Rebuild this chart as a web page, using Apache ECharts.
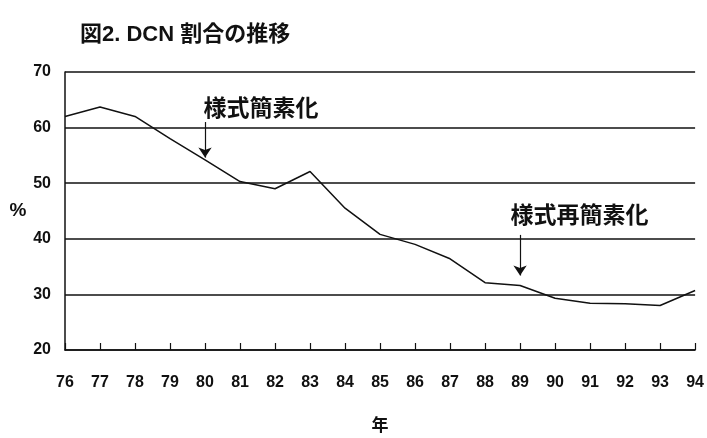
<!DOCTYPE html>
<html><head><meta charset="utf-8">
<script src="https://cdn.jsdelivr.net/npm/echarts@6/dist/echarts.min.js"></script>
<style>html,body{margin:0;padding:0;background:#fff}#c{width:707px;height:438px}</style>
</head><body><div id="c"></div>
<script>
const years = [76,77,78,79,80,81,82,83,84,85,86,87,88,89,90,91,92,93,94];
const dcnShare = [62.0,63.7,62.0,58.0,54.2,50.3,49.0,52.1,45.5,40.8,39.0,36.4,32.1,31.6,29.3,28.4,28.3,28.0,30.7];
const yTicks = [20,30,40,50,60,70];
const notes = [
  {text:'様式簡素化', x:81.6, y:63.6, arrowX:80, from:61.0, to:54.6},
  {text:'様式再簡素化', x:90.7, y:44.4, arrowX:89, from:40.7, to:33.4}
];
const FONT = '"Liberation Sans","Noto Sans CJK JP",sans-serif';
const JFONT = '"Noto Sans CJK JP","Liberation Sans",sans-serif';
const chart = echarts.init(document.getElementById('c'));
chart.setOption({
  animation:false,
  backgroundColor:'#fff',
  title:{text:'図2. DCN 割合の推移', left:75, top:19,
    textStyle:{fontFamily:FONT, fontSize:22, fontWeight:'bold', color:'#111'}},
  grid:{left:65, right:9, top:72, bottom:88},
  xAxis:{type:'value', min:years[0], max:years[years.length-1], interval:1,
    name:'年', nameLocation:'middle', nameGap:66,
    nameTextStyle:{fontFamily:JFONT, fontSize:17, fontWeight:'bold', color:'#111'},
    axisLine:{lineStyle:{color:'#111', width:1.5}},
    axisTick:{inside:true, length:7, lineStyle:{color:'#111', width:1.2}},
    axisLabel:{margin:25, fontFamily:FONT, fontSize:16, fontWeight:'bold', color:'#111', formatter:v=>String(v)},
    splitLine:{show:false}},
  yAxis:{type:'value', min:yTicks[0], max:yTicks[yTicks.length-1], interval:10,
    name:'%', nameLocation:'middle', nameRotate:0, nameGap:47,
    nameTextStyle:{fontFamily:FONT, fontSize:19, fontWeight:'bold', color:'#111', align:'center'},
    axisLine:{show:true, lineStyle:{color:'#111', width:1.5}},
    axisTick:{show:false},
    axisLabel:{margin:14, fontFamily:FONT, fontSize:16, fontWeight:'bold', color:'#111'},
    splitLine:{show:true, lineStyle:{color:'#111', width:1.5}}},
  series:[{
    type:'line', data:years.map((y,i)=>[y,dcnShare[i]]), symbol:'none', smooth:false,
    lineStyle:{color:'#111', width:1.5},
    markLine:{silent:true, symbol:['none','arrow'], symbolSize:10,
      lineStyle:{color:'#111', width:1.2, type:'solid'}, label:{show:false},
      data:notes.map(n=>[{coord:[n.arrowX,n.from]},{coord:[n.arrowX,n.to]}])},
    markPoint:{silent:true, symbol:'circle', symbolSize:0,
      label:{show:true, position:'inside', fontFamily:JFONT, fontSize:23, fontWeight:'bold', color:'#111', formatter:p=>p.name},
      data:notes.map(n=>({name:n.text, coord:[n.x,n.y]}))}
  }]
});
</script></body></html>
